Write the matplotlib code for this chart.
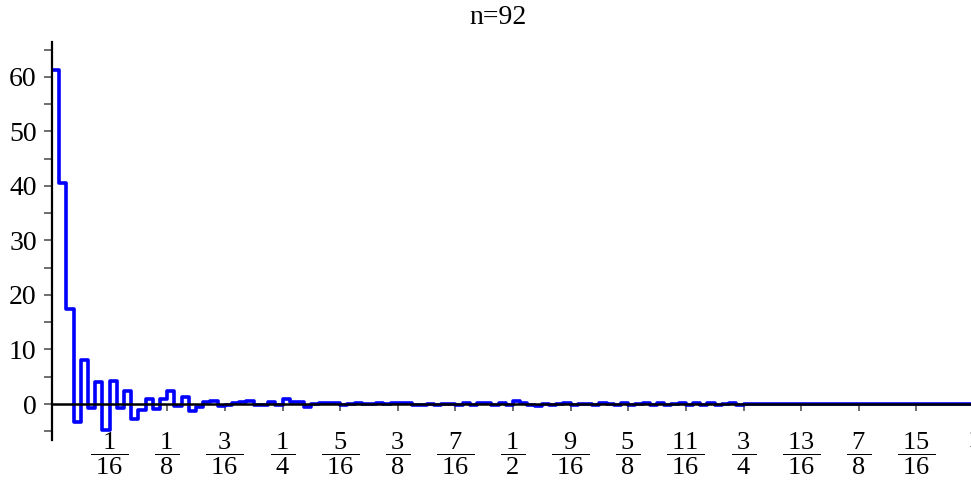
import numpy as np
import matplotlib.pyplot as plt
from matplotlib.ticker import MultipleLocator, FixedLocator

plt.rcParams['font.family'] = ['Liberation Serif', 'DejaVu Serif']
plt.rcParams['mathtext.fontset'] = 'custom'
plt.rcParams['mathtext.rm'] = 'Liberation Serif'
plt.rcParams['mathtext.it'] = 'Liberation Serif:italic'

# step heights of the partial sum on 128 equal sub-intervals of [0, 1]
vals = [61.3, 40.5, 17.4, -3.3, 8.1, -0.8, 4.0, -4.8, 4.3, -0.7, 2.3, -2.8,
        -1.1, 0.9, -1.0, 1.0, 2.3, -0.4, 1.2, -1.2,
        -0.5, 0.3, 0.6, -0.3, -0.2, 0.1, 0.4, 0.6, -0.2, -0.1, 0.4, -0.2,
        0.9, 0.4, 0.3, -0.5,
        0.0, 0.1, 0.1, 0.1, -0.1, 0.0, 0.1, 0.0, 0.0, 0.1, 0.0, 0.1,
        0.1, 0.2, -0.2, -0.2, 0.0, -0.1, 0.0, 0.0, -0.2, 0.1, -0.2, 0.1,
        0.1, -0.2, 0.2, -0.1, 0.5, 0.1, -0.2, -0.4, 0.0,
        -0.1, 0.0, 0.1, -0.1, 0.0, 0.0, -0.1, 0.1, 0.0, -0.1, 0.1, -0.1,
        0.0, 0.1, -0.1, 0.1, -0.1, 0.0, 0.1, -0.1, 0.1, -0.1, 0.1, -0.1,
        0.0, 0.1, -0.1,
        0.02, 0.0, 0.02, 0.0, 0.02, 0.0, 0.02, 0.0, 0.02, 0.0, 0.02,
        0.0, 0.02, 0.0, 0.02, 0.0, 0.02, 0.0, 0.02, 0.0, 0.02, 0.0,
        0.02, 0.0, 0.02, 0.0, 0.02, 0.0, 0.02, 0.0, 0.02, 0.0]
n_steps = len(vals)

xticks = [1/16, 1/8, 3/16, 1/4, 5/16, 3/8, 7/16, 1/2,
          9/16, 5/8, 11/16, 3/4, 13/16, 7/8, 15/16, 1]
xlabels = [("1", "16"), ("1", "8"), ("3", "16"), ("1", "4"), ("5", "16"),
           ("3", "8"), ("7", "16"), ("1", "2"), ("9", "16"), ("5", "8"),
           ("11", "16"), ("3", "4"), ("13", "16"), ("7", "8"), ("15", "16"),
           ("1", None)]

edges = np.linspace(0, 1, n_steps + 1)
y = np.append(vals, vals[-1])

fig = plt.figure(figsize=(9.71, 4.8), dpi=100)
ax = fig.add_axes([52/971, 40/480, 922/971, 398/480])
ax.step(edges, y, where='post', color='#0000ff', lw=2.6)

ax.set_xlim(0, 1)
ax.set_ylim(-6.6, 66.4)

ax.spines['top'].set_visible(False)
ax.spines['right'].set_visible(False)
ax.spines['bottom'].set_position(('data', 0))
ax.spines['bottom'].set_linewidth(1.8)
ax.spines['left'].set_linewidth(1.6)

ax.yaxis.set_minor_locator(MultipleLocator(5))
ax.set_yticks([0, 10, 20, 30, 40, 50, 60])
ax.tick_params(axis='y', which='both', length=6, width=1.2, color='#555555',
               labelsize=20, pad=5)

labs = []
for a, b in xlabels:
    if b is None:
        labs.append(a)
    else:
        labs.append(r"$\dfrac{%s}{\;%s\;}$" % (a, b))
ax.xaxis.set_major_locator(FixedLocator(xticks))
ax.set_xticklabels(labs)
ax.tick_params(axis='x', which='major', length=5, width=1.2, color='#555555',
               labelsize=19, pad=14)

fig.text(498/971, 1 - 17/480, "n=92", ha='center', va='center', fontsize=20)

plt.savefig("out.png", dpi=100)
